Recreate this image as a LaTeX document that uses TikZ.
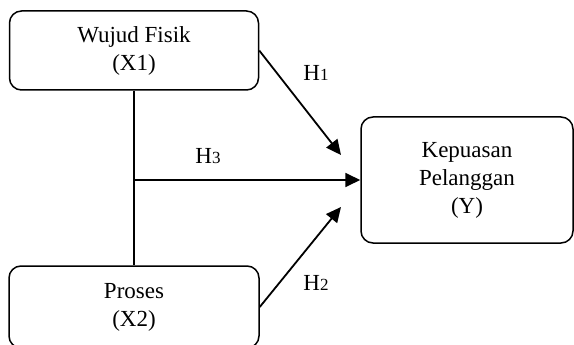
\documentclass[tikz,border=0pt]{standalone}
\usepackage{fontspec}
\setmainfont{Liberation Serif}
\usetikzlibrary{arrows.meta, positioning}

\begin{document}
\begin{tikzpicture}[x=1pt, y=-1pt,
        >={Triangle[length=15pt, width=14pt]},
        box/.style={draw, rounded corners=12pt, align=center, line width=1.5pt, inner sep=0pt, font=\fontsize{23}{28}\selectfont},
        arr/.style={->, line width=1.8pt},
        hyp/.style={font=\fontsize{23}{23}\selectfont, inner sep=0pt},
    ]
    \useasboundingbox (0,0) rectangle (574,345);
    % Boxes
    \node[box, minimum width=249pt, minimum height=79pt] (fisik) at (134, 50.5) {Wujud Fisik\\(X1)};
    \node[box, minimum width=250pt, minimum height=82pt] (proses) at (134, 307) {Proses\\(X2)};
    \node[box, minimum width=212pt, minimum height=126pt] (puas) at (467, 180) {Kepuasan\\Pelanggan\\(Y)};
    % Connectors
    \coordinate (h1end) at (341, 155);
    \coordinate (h2end) at (341, 207);
    \coordinate (join) at (fisik.south |- puas.west);
    \draw[line width=1.8pt] (fisik.south) -- (proses.north);
    \draw[arr] (fisik.east) -- (h1end);
    \draw[arr] (join) -- (puas.west);
    \draw[arr] (proses.east) -- (h2end);
    % Labels
    \node[hyp] (lab1) at (316, 73) {H{\fontsize{17}{17}\selectfont 1}};
    \node[hyp] (lab3) at (208, 156) {H{\fontsize{17}{17}\selectfont 3}};
    \node[hyp] (lab2) at (316, 283) {H{\fontsize{17}{17}\selectfont 2}};
\end{tikzpicture}
\end{document}
